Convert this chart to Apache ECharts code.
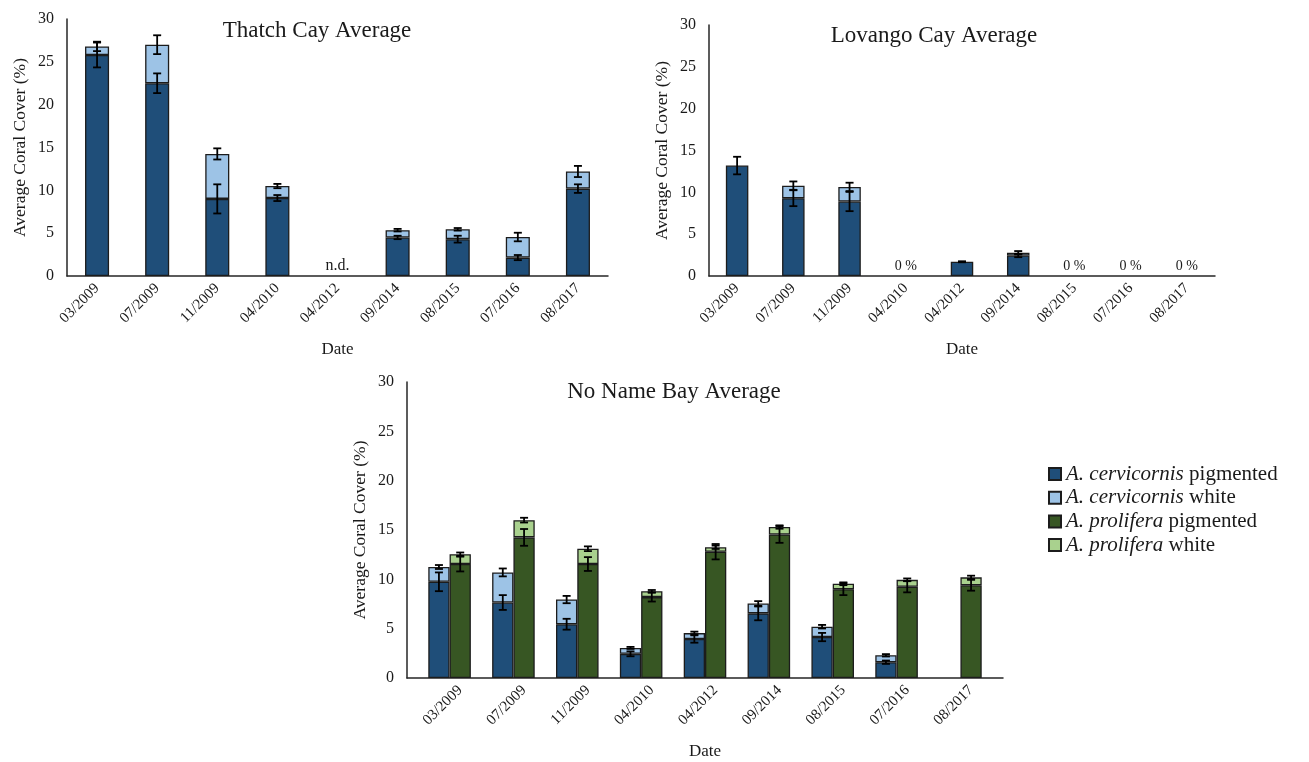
<!DOCTYPE html>
<html>
<head>
<meta charset="utf-8">
<script src="https://cdn.jsdelivr.net/npm/echarts@6/dist/echarts.min.js"></script>
<style>
  html, body { margin: 0; padding: 0; background: #fff; }
  #chart { width: 1309px; height: 762px; }
</style>
</head>
<body>
<div id="chart"></div>
<script>
// Survey dates shared by all three sites
const dates = ['03/2009', '07/2009', '11/2009', '04/2010', '04/2012', '09/2014', '08/2015', '07/2016', '08/2017'];
const yTicks = { min: 0, max: 30, step: 5 };

// Thatch Cay (null = no data collected)
const thatchCervPig      = [25.8, 22.5, 9.0, 9.1, null, 4.5, 4.3, 2.15, 10.2];
const thatchCervWhite    = [1.0, 4.5, 5.25, 1.4, null, 0.85, 1.15, 2.4, 2.0];
const thatchCervPigErr   = [1.45, 1.15, 1.7, 0.35, null, 0.2, 0.4, 0.3, 0.5];
const thatchCervWhiteErr = [0.55, 1.1, 0.65, 0.25, null, 0.15, 0.15, 0.5, 0.65];

// Lovango Cay
const lovangoCervPig      = [13.2, 9.3, 8.9, 0, 1.7, 2.45, 0, 0, 0];
const lovangoCervWhite    = [0, 1.5, 1.75, 0, 0, 0.33, 0, 0, 0];
const lovangoCervPigErr   = [1.05, 0.95, 1.15, 0, 0.06, 0.2, 0, 0, 0];
const lovangoCervWhiteErr = [0, 0.5, 0.5, 0, 0, 0.2, 0, 0, 0];

// No Name Bay
const noNameCervPig      = [9.75, 7.65, 5.45, 2.45, 3.95, 6.55, 4.15, 1.6, 0];
const noNameCervWhite    = [1.5, 3.05, 2.5, 0.6, 0.6, 1.0, 1.05, 0.7, 0];
const noNameCervPigErr   = [0.95, 0.75, 0.55, 0.25, 0.37, 0.7, 0.42, 0.17, 0];
const noNameCervWhiteErr = [0.2, 0.4, 0.37, 0.1, 0.15, 0.24, 0.18, 0.12, 0];
const noNameProlPig      = [11.55, 14.25, 11.55, 8.2, 12.8, 14.55, 9.0, 9.25, 9.4];
const noNameProlWhite    = [1.0, 1.75, 1.55, 0.6, 0.45, 0.75, 0.55, 0.7, 0.8];
const noNameProlPigErr   = [0.75, 0.85, 0.7, 0.45, 0.78, 0.85, 0.6, 0.57, 0.55];
const noNameProlWhiteErr = [0.17, 0.24, 0.24, 0.12, 0.17, 0.17, 0.14, 0.14, 0.17];

const NAMES = {
  cervPig: 'A. cervicornis pigmented',
  cervWhite: 'A. cervicornis white',
  prolPig: 'A. prolifera pigmented',
  prolWhite: 'A. prolifera white'
};
const COLORS = { cervPig: '#1f4e79', cervWhite: '#9dc3e6', prolPig: '#375623', prolWhite: '#a9d18e' };
const FONT = '"Liberation Serif", "Times New Roman", serif';
const INK = '#1a1a1a';

const toBar = v => (v === null || v === 0) ? '-' : v;

// Error bar glyph: vertical whisker with caps, centred on the category (or slot)
function renderErr(params, api) {
  const x = api.value(0), y = api.value(1), e = api.value(2);
  const top = api.coord([x, y + e]);
  const bot = api.coord([x, y - e]);
  const cx = top[0], hw = 4;
  const style = { stroke: '#000', lineWidth: 1.8 };
  return {
    type: 'group',
    children: [
      { type: 'line', shape: { x1: cx, y1: top[1], x2: cx, y2: bot[1] }, style },
      { type: 'line', shape: { x1: cx - hw, y1: top[1], x2: cx + hw, y2: top[1] }, style },
      { type: 'line', shape: { x1: cx - hw, y1: bot[1], x2: cx + hw, y2: bot[1] }, style }
    ]
  };
}

function errData(pig, white, pigErr, whiteErr, slotOf) {
  const out = [];
  pig.forEach((p, i) => {
    if (p === null) return;
    const x = slotOf(i);
    if (pigErr[i] > 0) out.push([x, p, pigErr[i]]);
    if (whiteErr[i] > 0) out.push([x, p + white[i], whiteErr[i]]);
  });
  return out;
}

// Text marks at the base of empty categories: "n.d." when unsampled, "0 %" when the cover is zero
function noteSeries(gridIdx, pig, white) {
  const items = [], texts = [];
  pig.forEach((p, i) => {
    if (p === null) { items.push([i, 0]); texts.push('n.d.'); }
    else if (p + white[i] === 0) { items.push([i, 0]); texts.push((p + white[i]) + ' %'); }
  });
  return {
    type: 'custom', xAxisIndex: gridIdx, yAxisIndex: gridIdx, data: items, z: 5, silent: true,
    encode: { x: 0, y: 1 },
    renderItem: (params, api) => {
      const pt = api.coord([api.value(0), api.value(1)]);
      const t = texts[params.dataIndex];
      return {
        type: 'text', x: pt[0], y: pt[1] - 10,
        style: { text: t, fill: INK, font: (t === 'n.d.' ? 16 : 14) + 'px ' + FONT, textAlign: 'center', textVerticalAlign: 'middle' }
      };
    }
  };
}

function barSeries(key, gridIdx, data, stack, extra) {
  return Object.assign({
    type: 'bar', name: NAMES[key], xAxisIndex: gridIdx, yAxisIndex: gridIdx, stack: stack,
    data: data,
    itemStyle: { color: COLORS[key], borderColor: '#1c1c1c', borderWidth: 1.3 },
    emphasis: { disabled: true }, silent: true
  }, extra || {});
}

// No Name Bay: one empty slot, then [cervicornis, prolifera, empty] per date
const SLOTS = 1 + dates.length * 3;
const slotOfCerv = i => 1 + 3 * i;
const slotOfProl = i => 2 + 3 * i;
function slotData(values, slotOf) {
  const out = new Array(SLOTS).fill('-');
  values.forEach((v, i) => { out[slotOf(i)] = toBar(v); });
  return out;
}
const slotNames = Array.from({ length: SLOTS }, (_, k) => 's' + k);

const axisLineStyle = { show: true, lineStyle: { color: '#262626', width: 1.5 } };

function yAxisFor(gridIdx) {
  return {
    type: 'value', gridIndex: gridIdx, min: yTicks.min, max: yTicks.max, interval: yTicks.step,
    axisLine: axisLineStyle, axisTick: { show: false }, splitLine: { show: false },
    axisLabel: { fontFamily: FONT, fontSize: 16, color: INK, margin: 13 },
    name: 'Average Coral Cover (%)', nameLocation: 'middle', nameGap: 38,
    nameTextStyle: { fontFamily: FONT, fontSize: 17.5, color: INK }
  };
}
function xAxisFor(gridIdx, data, labelExtra) {
  return {
    type: 'category', gridIndex: gridIdx, data: data,
    axisLine: axisLineStyle, axisTick: { show: false },
    axisLabel: Object.assign({ rotate: 45, fontFamily: FONT, fontSize: 15, color: INK, margin: 10, interval: 0 }, labelExtra || {}),
    name: 'Date', nameLocation: 'middle', nameGap: 65,
    nameTextStyle: { fontFamily: FONT, fontSize: 17, color: INK }
  };
}

const titleText = (text, x, y) => ({
  type: 'text', x: x, y: y,
  style: { text: text, font: '23px ' + FONT, fill: INK, textAlign: 'center', textVerticalAlign: 'middle' }
});

const option = {
  animation: false,
  backgroundColor: '#fff',
  grid: [
    { left: 67, top: 19, width: 541, height: 257 },
    { left: 709, top: 25, width: 506, height: 251 },
    { left: 407, top: 382, width: 596, height: 296 }
  ],
  xAxis: [
    xAxisFor(0, dates),
    xAxisFor(1, dates),
    xAxisFor(2, slotNames, {
      interval: idx => idx % 3 === 2,
      formatter: (v, idx) => dates[(idx - 2) / 3]
    })
  ],
  yAxis: [yAxisFor(0), yAxisFor(1), yAxisFor(2)],
  legend: {
    orient: 'vertical', left: 1048, top: 463, padding: 0,
    itemWidth: 12, itemHeight: 12, itemGap: 1.7, icon: 'rect', selectedMode: false,
    data: [NAMES.cervPig, NAMES.cervWhite, NAMES.prolPig, NAMES.prolWhite],
    formatter: name => {
      const parts = name.split(' ');
      return '{i|' + parts[0] + ' ' + parts[1] + '}{n| ' + parts.slice(2).join(' ') + '}';
    },
    textStyle: {
      fontFamily: FONT, fontSize: 21, color: INK, lineHeight: 22,
      rich: {
        i: { fontFamily: FONT, fontSize: 21, fontStyle: 'italic', color: INK, lineHeight: 22 },
        n: { fontFamily: FONT, fontSize: 21, color: INK, lineHeight: 22 }
      }
    }
  },
  graphic: [
    titleText('Thatch Cay Average', 317, 31),
    titleText('Lovango Cay Average', 934, 36),
    titleText('No Name Bay Average', 674, 392)
  ],
  series: [
    // Thatch Cay
    barSeries('cervPig', 0, thatchCervPig.map(toBar), 'thatch', { barCategoryGap: '60%' }),
    barSeries('cervWhite', 0, thatchCervWhite.map(toBar), 'thatch'),
    { type: 'custom', xAxisIndex: 0, yAxisIndex: 0, z: 4, silent: true, encode: { x: 0, y: 1 },
      data: errData(thatchCervPig, thatchCervWhite, thatchCervPigErr, thatchCervWhiteErr, i => i), renderItem: renderErr },
    noteSeries(0, thatchCervPig, thatchCervWhite),

    // Lovango Cay
    barSeries('cervPig', 1, lovangoCervPig.map(toBar), 'lovango', { barCategoryGap: '60%' }),
    barSeries('cervWhite', 1, lovangoCervWhite.map(toBar), 'lovango'),
    { type: 'custom', xAxisIndex: 1, yAxisIndex: 1, z: 4, silent: true, encode: { x: 0, y: 1 },
      data: errData(lovangoCervPig, lovangoCervWhite, lovangoCervPigErr, lovangoCervWhiteErr, i => i), renderItem: renderErr },
    noteSeries(1, lovangoCervPig, lovangoCervWhite),

    // No Name Bay: both species stacked in their own slots
    barSeries('cervPig', 2, slotData(noNameCervPig, slotOfCerv), 'noname', { barCategoryGap: '0%' }),
    barSeries('cervWhite', 2, slotData(noNameCervWhite, slotOfCerv), 'noname'),
    barSeries('prolPig', 2, slotData(noNameProlPig, slotOfProl), 'noname'),
    barSeries('prolWhite', 2, slotData(noNameProlWhite, slotOfProl), 'noname'),
    { type: 'custom', xAxisIndex: 2, yAxisIndex: 2, z: 4, silent: true, encode: { x: 0, y: 1 },
      data: errData(noNameCervPig, noNameCervWhite, noNameCervPigErr, noNameCervWhiteErr, slotOfCerv)
        .concat(errData(noNameProlPig, noNameProlWhite, noNameProlPigErr, noNameProlWhiteErr, slotOfProl)),
      renderItem: renderErr }
  ]
};

const chart = echarts.init(document.getElementById('chart'), null, { renderer: 'canvas' });
chart.setOption(option);
</script>
</body>
</html>
